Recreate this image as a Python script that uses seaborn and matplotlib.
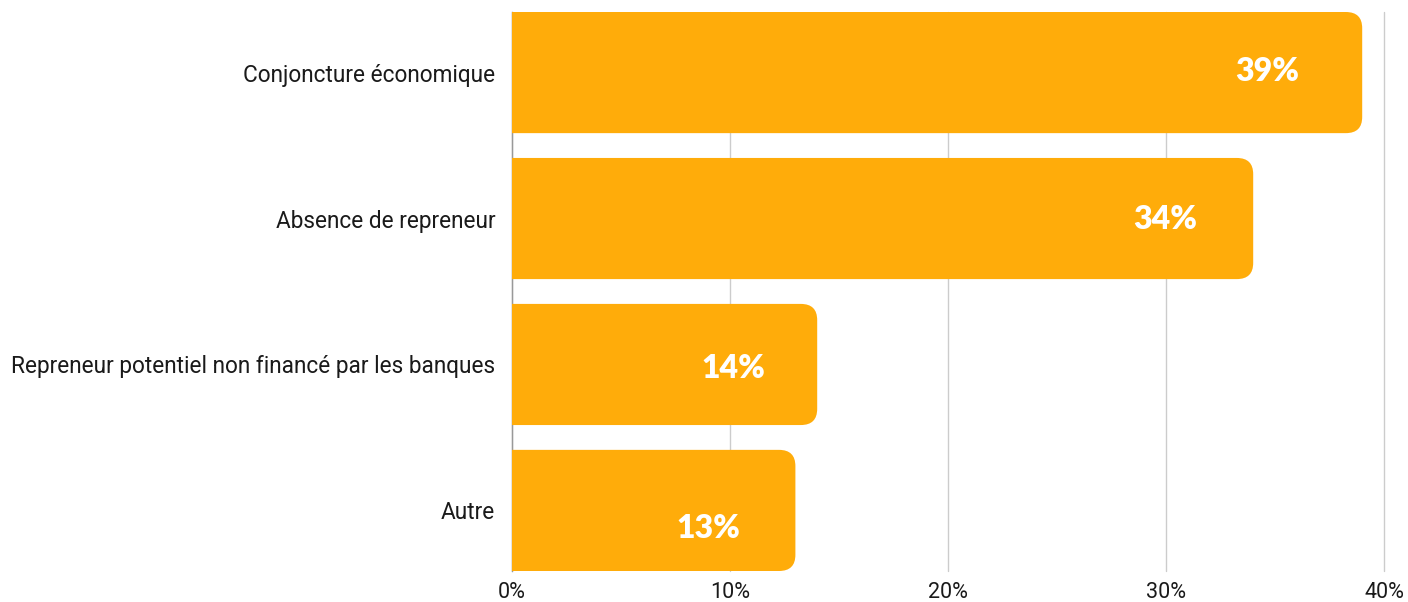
import pandas as pd
import matplotlib
matplotlib.use("Agg")
import matplotlib.pyplot as plt
from matplotlib.patches import FancyBboxPatch
import seaborn as sns

# Data
categories = [
    "Conjoncture économique",
    "Absence de repreneur",
    "Repreneur potentiel non financé par les banques",
    "Autre",
]
values = [39, 34, 14, 13]
xticks = [0, 10, 20, 30, 40]

BAR_COLOR = "#FFAC0A"

df = pd.DataFrame({"cause": categories, "pct": values})

sns.set_style("white")
plt.rcParams["font.family"] = ["Roboto", "DejaVu Sans"]

fig = plt.figure(figsize=(14.08, 6.02), dpi=100)
ax = fig.add_axes([512 / 1408, 31 / 602, 872 / 1408, 559 / 602])

sns.barplot(data=df, x="pct", y="cause", color=BAR_COLOR, width=0.83,
            saturation=1, ax=ax, zorder=2)

# swap the plain bars for ones with rounded corners
for p in list(ax.patches):
    x0, y0, w, h = p.get_x(), p.get_y(), p.get_width(), p.get_height()
    p.remove()
    rb = FancyBboxPatch((x0 - 2, y0), w + 2, h,
                        boxstyle="round,pad=0,rounding_size=0.75",
                        mutation_aspect=0.148, facecolor=BAR_COLOR,
                        edgecolor="none", zorder=2)
    ax.add_patch(rb)

ax.set_xlim(0, 40)
ax.set_ylim(3.415, -0.415)
ax.set_xticks(xticks)
ax.set_xticklabels([f"{t}%" for t in xticks], fontsize=15.5, color="#1a1a1a")
ax.tick_params(axis="y", labelsize=16.3, labelcolor="#1a1a1a", length=0, pad=12)
ax.tick_params(axis="x", length=0, pad=8)
ax.set_xlabel("")
ax.set_ylabel("")
ax.xaxis.grid(True, color="#cccccc", linewidth=1, zorder=0)
for gl in ax.get_xgridlines():
    gl.set_clip_on(False)
ax.set_axisbelow(True)
for s in ["top", "right", "bottom"]:
    ax.spines[s].set_visible(False)
ax.spines["left"].set_color("#999999")
ax.spines["left"].set_linewidth(1)
ax.spines["left"].set_zorder(1)

# value labels inside the bars
dx = [-95, -88, -84, -87]
dy = [1, -1, -4, -18]
for i, v in enumerate(values):
    ax.annotate(f"{v}%", xy=(v, i), xytext=(dx[i], dy[i]),
                textcoords="offset pixels", ha="center", va="center",
                fontsize=23, fontweight="heavy", color="white",
                family=["Lato", "DejaVu Sans"], zorder=3)

fig.savefig("out.png", dpi=100)
